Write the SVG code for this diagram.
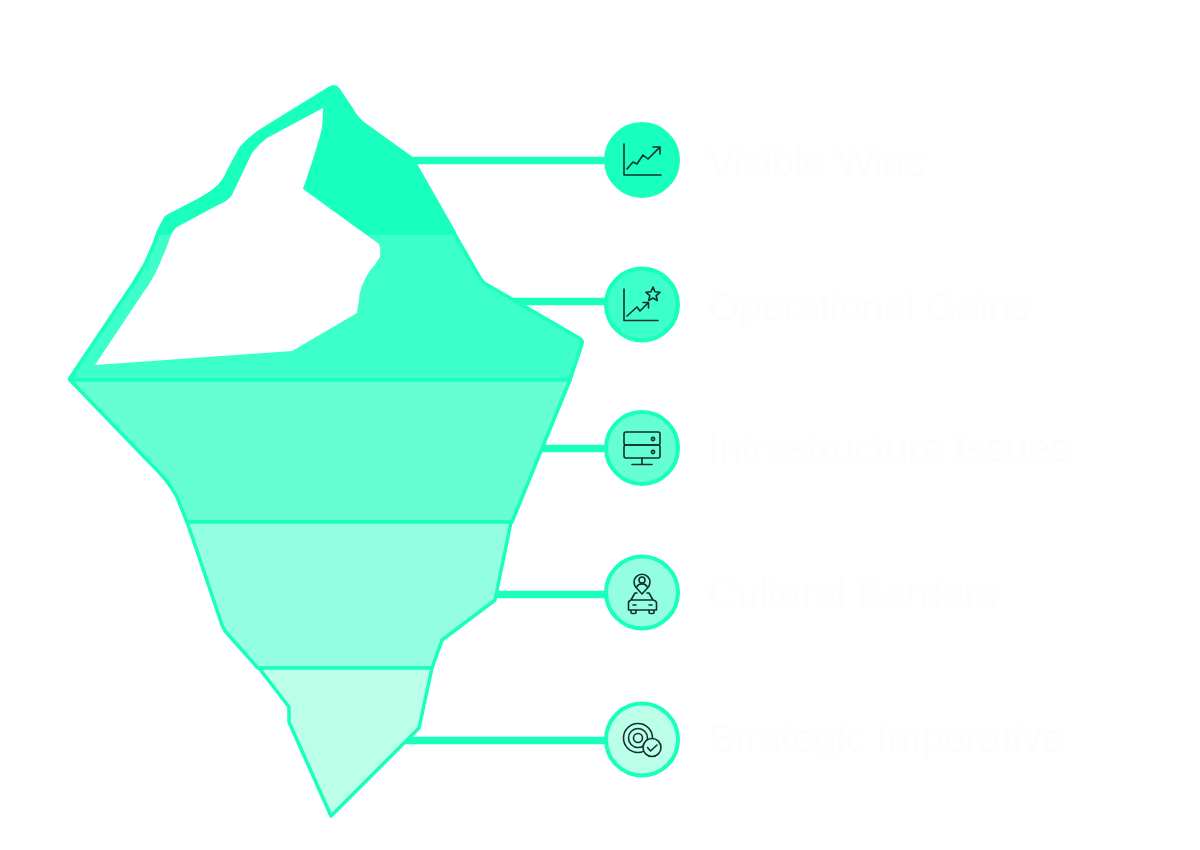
<svg xmlns="http://www.w3.org/2000/svg" width="1200" height="850" viewBox="0 0 1200 850">
<style>
.band{stroke:#19ffbd;stroke-width:3.500;stroke-linejoin:round}
.conn{stroke:#19ffbd;stroke-width:7.5;fill:none}
.disc{stroke:#19ffbd;stroke-width:4}
.ico{fill:none;stroke:#10302c;stroke-width:1.6;stroke-linecap:round;stroke-linejoin:round}
.lbl{font-family:"Liberation Sans",Arial,sans-serif;font-size:40px;fill:#fdfdfd}
.c1{fill:#19ffbd}.c2{fill:#3dffc9}.c3{fill:#66ffd2}.c4{fill:#94ffe0}.c5{fill:#bbffe9}
</style>
<rect width="1200" height="850" fill="#fff"/>
<g id="connectors">
<line class="conn" x1="412" y1="160.500" x2="610" y2="160.500"/>
<line class="conn" x1="512" y1="301.500" x2="610" y2="301.500"/>
<line class="conn" x1="541" y1="448.500" x2="610" y2="448.500"/>
<line class="conn" x1="496" y1="594.500" x2="610" y2="594.500"/>
<line class="conn" x1="405" y1="740.500" x2="610" y2="740.500"/>
</g>
<g id="iceberg">
<g id="band-1"><path class="band c1" d="M158 232L164 221Q165 217 170 215L197 201Q212 193 218 187Q224 182 229 170L241 148Q250 138 262 130L330 88Q335 85 338 89L352 110Q357 119 365 125L411 158L417 167L454 232Z"/></g>
<g id="band-2"><path class="band c2" d="M158 233Q152 250 144 266L133 284L70 378Q69 380 71 380H570L582 344Q583 340 579 338L484 283L480 278L454 233Z"/></g>
<g id="band-3"><path class="band c3" d="M70 380H570L512 522H187L177 497Q168 480 150 463Z"/></g>
<g id="band-4"><polygon class="band c4" points="187,522 511,522 495,600 442,640 432,668 258,668 225,631 222,625 196,548"/></g>
<g id="band-5"><polygon class="band c5" points="259,668 432,668 419,728 331,816 289,722 289,707"/></g>
<path id="cutout" fill="#fff" d="M95 365L143 293Q155 277 162 258Q166 250 170 238Q172 231 177 227L218 205Q228 201 232 195L252 153Q258 145 267 138L323 108Q323 118 322 128Q318 145 303 189L379 244Q381 250 380 257Q375 265 369 272Q359 288 359 300Q358 306 357 313L292 351Z"/>
</g>
<g id="node-1">
<circle class="disc c1" cx="642" cy="160" r="36"/>
<path class="ico" d="M624 144V175H661M627 169L633 162L637 164L643 155L648 159L660 147M653 147H660V154"/>
<text class="lbl" x="708" y="176">Visible Wins</text>
</g>
<g id="node-2">
<circle class="disc c2" cx="642" cy="304.500" r="36"/>
<path class="ico" d="M624 289V320.500H658M627 316L637 307L640 311L648 303M643 302.500H648.500V308"/>
<path class="ico" d="M653 287L655 291.800L660 292.300L656.200 295.700L657.300 300.500L653 298L648.700 300.500L649.800 295.700L646 292.300L651 291.800Z"/>
<text class="lbl" x="708" y="321">Operational Gains</text>
</g>
<g id="node-3">
<circle class="disc c3" cx="642" cy="448" r="36"/>
<rect class="ico" x="624" y="432" width="36" height="13" rx="2"/>
<rect class="ico" x="624" y="445" width="36" height="13" rx="2"/>
<circle class="ico" cx="653" cy="439" r="1.600"/>
<circle class="ico" cx="653" cy="452" r="1.600"/>
<path class="ico" d="M642 458V464M632 464.500H652"/>
<text class="lbl" x="708" y="462">Infrastructure Issues</text>
</g>
<g id="node-4">
<circle class="disc c4" cx="642" cy="592.500" r="36"/>
<path class="ico" d="M642 594L636.500 588A8 8 0 1 1 647.500 588Z"/>
<circle class="ico" cx="642" cy="580" r="3"/>
<path class="ico" d="M636.500 587.500A6 6 0 0 1 647.500 587.500"/>
<path class="ico" d="M637 593H635L631 600H653L649 593H647M631 600Q628 601 628.500 604V610H656.500V604Q657 601 653 600M631 610V612.500Q631 613.500 632.500 613.500H635Q636 613.500 636 612V610M649 610V612Q649 613.500 650.500 613.500H653Q654 613.500 654 612.500V610M633 605H636M649 605H652"/>
<text class="lbl" x="708" y="607">Cultural Barriers</text>
</g>
<g id="node-5">
<circle class="disc c5" cx="642" cy="739.500" r="36"/>
<circle class="ico" cx="638" cy="738" r="14.500"/>
<circle class="ico" cx="638" cy="738" r="9.500"/>
<circle class="ico" cx="638" cy="738" r="4.500"/>
<circle class="ico c5" cx="652" cy="747.500" r="9"/>
<path class="ico" d="M647.500 747.500L650.500 751L657 745"/>
<text class="lbl" x="708" y="752">Strategic Imperative</text>
</g>
</svg>
